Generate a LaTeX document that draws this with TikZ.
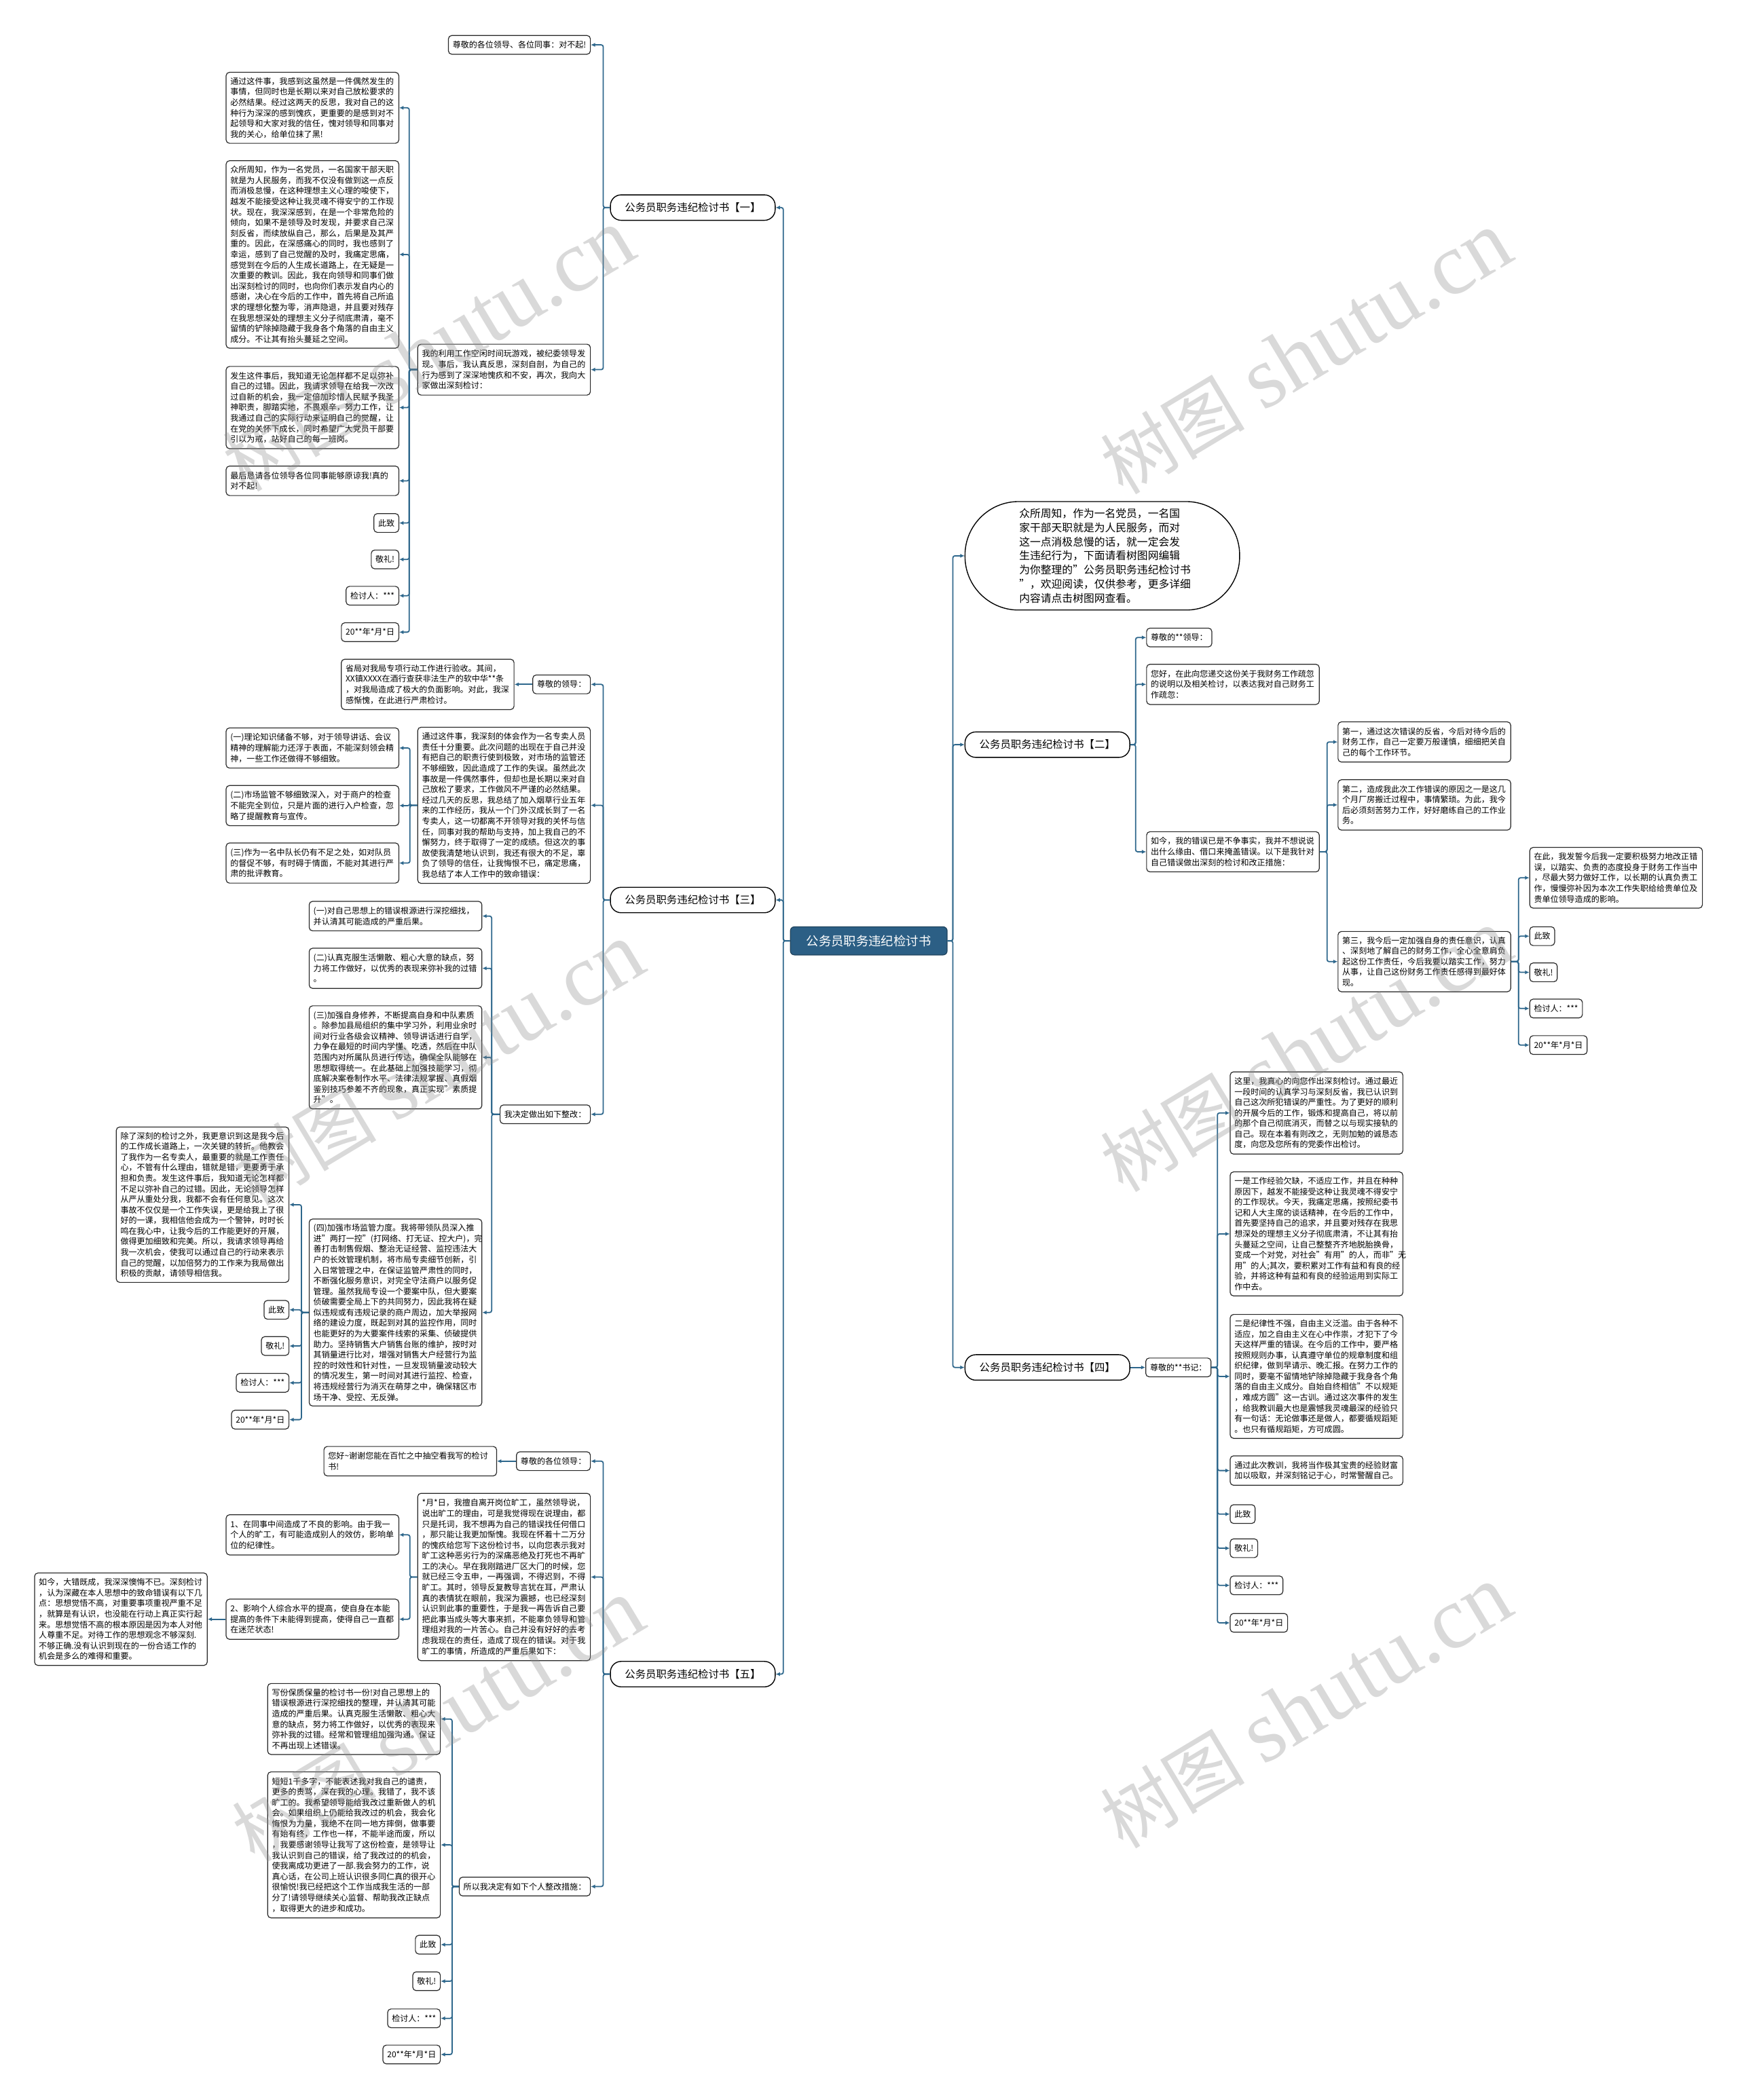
\documentclass[tikz,border=0pt]{standalone}
\usepackage{fontspec}
\setmainfont{Noto Sans CJK SC}
\newfontfamily\cjk{Noto Sans CJK SC}
\newfontfamily\wmlat{Liberation Serif}
\usetikzlibrary{arrows.meta}
\definecolor{connc}{RGB}{46,103,140}
\definecolor{boxc}{RGB}{40,40,40}
\definecolor{rootfill}{RGB}{44,95,133}
\tikzset{
 conn/.style={draw=connc, line width=0.9pt, rounded corners=1.5pt, -{Latex[length=3.2pt,width=3pt]}},
 tb/.style={draw=boxc, line width=0.6pt, rounded corners=2.5pt, fill=white, align=left, inner xsep=3.2pt, inner ysep=2pt, font=\fontsize{6.1}{7.9}\selectfont, text width=122.5pt, minimum height=#1pt},
 sb/.style={draw=boxc, line width=0.6pt, rounded corners=2.5pt, fill=white, inner xsep=3.2pt, inner ysep=2pt, font=\fontsize{6.1}{7.9}\selectfont, minimum height=14pt},
 br/.style={draw=black, line width=0.7pt, rounded corners=8pt, fill=white, font=\fontsize{7.8}{9}\selectfont, minimum width=123pt, minimum height=19pt, inner sep=0pt},
 wm/.style={text=black!45, opacity=0.33, rotate=31, inner sep=0pt},
}
\begin{document}
\begin{tikzpicture}[x=1pt,y=-1pt]
\fill[white] (0,0) rectangle (1297,1568);
\useasboundingbox (0,0) rectangle (1297,1568);

% root
\node[draw=rootfill!70!black, line width=0.6pt, fill=rootfill, rounded corners=3pt, text=white, font=\fontsize{9.3}{11}\selectfont, minimum width=117pt, minimum height=21pt, inner sep=0pt] (root) at (648.5,702.5) {公务员职务违纪检讨书};

% branches
\node[br, anchor=east] (B1) at (579,155) {公务员职务违纪检讨书【一】};
\node[br, anchor=east] (B3) at (579,672) {公务员职务违纪检讨书【三】};
\node[br, anchor=east] (B5) at (579,1250) {公务员职务违纪检讨书【五】};
\node[br, anchor=west] (B2) at (720,556) {公务员职务违纪检讨书【二】};
\node[br, anchor=west] (B4) at (720,1021) {公务员职务违纪检讨书【四】};
\node[draw=black, line width=0.7pt, rounded corners=40pt, fill=white, minimum width=205pt, minimum height=81pt, inner sep=0pt, align=left, text width=124pt, font=\fontsize{8}{10.6}\selectfont, anchor=west] (intro) at (720,415) {众所周知，作为一名党员，一名国\\家干部天职就是为人民服务，而对\\这一点消极怠慢的话，就一定会发\\生违纪行为，下面请看树图网编辑\\为你整理的"公务员职务违纪检讨书\\"，欢迎阅读，仅供参考，更多详细\\内容请点击树图网查看。};

\foreach \b in {B1,B3,B5} \draw[conn] (root.west) -- ++(-5,0) |- (\b.east);
\foreach \b in {intro,B2,B4} \draw[conn] (root.east) -- ++(4,0) |- (\b.west);

% ===== Branch 1 =====
\node[sb, anchor=east] (b1a) at (441,33.5) {尊敬的各位领导、各位同事：对不起!};
\node[tb=38, anchor=east] (b1b) at (441,276) {我的利用工作空闲时间玩游戏，被纪委领导发\\现。事后，我认真反思，深刻自剖，为自己的\\行为感到了深深地愧疚和不安，再次，我向大\\家做出深刻检讨：};
\foreach \c in {b1a,b1b} \draw[conn] (B1.west) -- ++(-5,0) |- (\c.east);

\node[tb=53, anchor=east] (c1) at (298,80.5) {通过这件事，我感到这虽然是一件偶然发生的\\事情，但同时也是长期以来对自己放松要求的\\必然结果。经过这两天的反思，我对自己的这\\种行为深深的感到愧疚，更重要的是感到对不\\起领导和大家对我的信任，愧对领导和同事对\\我的关心，给单位抹了黑!};
\node[tb=140, anchor=east] (c2) at (298,190) {众所周知，作为一名党员，一名国家干部天职\\就是为人民服务，而我不仅没有做到这一点反\\而消极怠慢，在这种理想主义心理的唆使下，\\越发不能接受这种让我灵魂不得安宁的工作现\\状。现在，我深深感到，在是一个非常危险的\\倾向，如果不是领导及时发现，并要求自己深\\刻反省，而续放纵自己，那么，后果是及其严\\重的。因此，在深感痛心的同时，我也感到了\\幸运，感到了自己觉醒的及时，我痛定思痛，\\感觉到在今后的人生成长道路上，在无疑是一\\次重要的教训。因此，我在向领导和同事们做\\出深刻检讨的同时，也向你们表示发自内心的\\感谢，决心在今后的工作中，首先将自己所追\\求的理想化整为零，消声隐退，并且要对残存\\在我思想深处的理想主义分子彻底肃清，毫不\\留情的铲除掉隐藏于我身各个角落的自由主义\\成分。不让其有抬头蔓延之空间。};
\node[tb=61.4, anchor=east] (c3) at (298,304.3) {发生这件事后，我知道无论怎样都不足以弥补\\自己的过错。因此，我请求领导在给我一次改\\过自新的机会，我一定倍加珍惜人民赋予我圣\\神职责，脚踏实地，不畏艰辛，努力工作，让\\我通过自己的实际行动来证明自己的觉醒，让\\在党的关怀下成长，同时希望广大党员干部要\\引以为戒，站好自己的每一班岗。};
\node[tb=22, anchor=east] (c4) at (298,359) {最后恳请各位领导各位同事能够原谅我!真的\\对不起!};
\node[sb, anchor=east] (c5) at (298,390.5) {此致};
\node[sb, anchor=east] (c6) at (298,417.7) {敬礼!};
\node[sb, anchor=east] (c7) at (298,444.8) {检讨人：***};
\node[sb, anchor=east] (c8) at (298,472) {20**年*月*日};
\foreach \c in {c1,c2,c3,c4,c5,c6,c7,c8} \draw[conn] (b1b.west) -- ++(-6,0) |- (\c.east);

% ===== Branch 3 =====
\node[sb, anchor=east] (d1) at (441,511) {尊敬的领导：};
\node[tb=37.6, anchor=east] (d1a) at (384,511) {省局对我局专项行动工作进行验收。其间，\\XX镇XXXX在酒行查获非法生产的软中华**条\\，对我局造成了极大的负面影响。对此，我深\\感惭愧，在此进行严肃检讨。};
\draw[conn] (d1.west) -- (d1a.east);
\node[tb=116.6, anchor=east] (d2) at (441,601.3) {通过这件事，我深刻的体会作为一名专卖人员\\责任十分重要。此次问题的出现在于自己并没\\有把自己的职责行使到极致，对市场的监管还\\不够细致，因此造成了工作的失误。虽然此次\\事故是一件偶然事件，但却也是长期以来对自\\己放松了要求，工作做风不严谨的必然结果。\\经过几天的反思，我总结了加入烟草行业五年\\来的工作经历，我从一个门外汉成长到了一名\\专卖人，这一切都离不开领导对我的关怀与信\\任，同事对我的帮助与支持，加上我自己的不\\懈努力，终于取得了一定的成绩。但这次的事\\故使我清楚地认识到，我还有很大的不足，辜\\负了领导的信任，让我悔恨不已，痛定思痛，\\我总结了本人工作中的致命错误：};
\node[sb, anchor=east] (d3) at (441,832) {我决定做出如下整改：};
\foreach \c in {d1,d2,d3} \draw[conn] (B3.west) -- ++(-5,0) |- (\c.east);

\node[tb=30, anchor=east] (d2a) at (298,558.5) {(一)理论知识储备不够，对于领导讲话、会议\\精神的理解能力还浮于表面，不能深刻领会精\\神，一些工作还做得不够细致。};
\node[tb=30, anchor=east] (d2b) at (298,601.5) {(二)市场监管不够细致深入，对于商户的检查\\不能完全到位，只是片面的进行入户检查，忽\\略了提醒教育与宣传。};
\node[tb=30, anchor=east] (d2c) at (298,644.4) {(三)作为一名中队长仍有不足之处，如对队员\\的督促不够，有时碍于情面，不能对其进行严\\肃的批评教育。};
\foreach \c in {d2a,d2b,d2c} \draw[conn] (d2.west) -- ++(-5.5,0) |- (\c.east);

\node[tb=22, anchor=east] (d3a) at (360,684) {(一)对自己思想上的错误根源进行深挖细找，\\并认清其可能造成的严重后果。};
\node[tb=30, anchor=east] (d3b) at (360,723) {(二)认真克服生活懒散、粗心大意的缺点，努\\力将工作做好，以优秀的表现来弥补我的过错\\。};
\node[tb=77, anchor=east] (d3c) at (360,789.5) {(三)加强自身修养，不断提高自身和中队素质\\。除参加县局组织的集中学习外，利用业余时\\间对行业各级会议精神、领导讲话进行自学，\\力争在最短的时间内学懂、吃透，然后在中队\\范围内对所属队员进行传达，确保全队能够在\\思想取得统一。在此基础上加强技能学习，彻\\底解决案卷制作水平、法律法规掌握、真假烟\\鉴别技巧参差不齐的现象，真正实现"素质提\\升"。};
\node[tb=139.6, anchor=east] (d3d) at (360,980) {(四)加强市场监管力度。我将带领队员深入推\\进"两打一控"(打网络、打无证、控大户)，完\\善打击制售假烟、整治无证经营、监控违法大\\户的长效管理机制，将市局专卖细节创新，引\\入日常管理之中，在保证监管严肃性的同时，\\不断强化服务意识，对完全守法商户以服务促\\管理。虽然我局专设一个要案中队，但大要案\\侦破需要全局上下的共同努力，因此我将在疑\\似违规或有违规记录的商户周边，加大举报网\\络的建设力度，既起到对其的监控作用，同时\\也能更好的为大要案件线索的采集、侦破提供\\助力。坚持销售大户销售台账的维护，按时对\\其销量进行比对，增强对销售大户经营行为监\\控的时效性和针对性，一旦发现销量波动较大\\的情况发生，第一时间对其进行监控、检查，\\将违规经营行为消灭在萌芽之中，确保辖区市\\场干净、受控、无反弹。};
\foreach \c in {d3a,d3b,d3c,d3d} \draw[conn] (d3.west) -- ++(-6,0) |- (\c.east);

\node[tb=116, anchor=east] (e1) at (216,899.5) {除了深刻的检讨之外，我更意识到这是我今后\\的工作成长道路上，一次关键的转折。他教会\\了我作为一名专卖人，最重要的就是工作责任\\心，不管有什么理由，错就是错，更要勇于承\\担和负责。发生这件事后，我知道无论怎样都\\不足以弥补自己的过错。因此，无论领导怎样\\从严从重处分我，我都不会有任何意见。这次\\事故不仅仅是一个工作失误，更是给我上了很\\好的一课，我相信他会成为一个警钟，时时长\\鸣在我心中，让我今后的工作能更好的开展，\\做得更加细致和完美。所以，我请求领导再给\\我一次机会，使我可以通过自己的行动来表示\\自己的觉醒，以加倍努力的工作来为我局做出\\积极的贡献，请领导相信我。};
\node[sb, anchor=east] (e2) at (216,978) {此致};
\node[sb, anchor=east] (e3) at (216,1005) {敬礼!};
\node[sb, anchor=east] (e4) at (216,1032.5) {检讨人：***};
\node[sb, anchor=east] (e5) at (216,1060) {20**年*月*日};
\foreach \c in {e1,e2,e3,e4,e5} \draw[conn] (d3d.west) -- ++(-5.5,0) |- (\c.east);

% ===== Branch 5 =====
\node[sb, anchor=east] (f1) at (441,1091) {尊敬的各位领导：};
\node[tb=22, anchor=east] (f1a) at (371,1091) {您好\textasciitilde 谢谢您能在百忙之中抽空看我写的检讨\\书!};
\draw[conn] (f1.west) -- (f1a.east);
\node[tb=125, anchor=east] (f2) at (441,1177.5) {*月*日，我擅自离开岗位旷工，虽然领导说，\\说出旷工的理由，可是我觉得现在说理由，都\\只是托词，我不想再为自己的错误找任何借口\\，那只能让我更加惭愧。我现在怀着十二万分\\的愧疚给您写下这份检讨书，以向您表示我对\\旷工这种恶劣行为的深痛恶绝及打死也不再旷\\工的决心。早在我刚踏进厂区大门的时候，您\\就已经三令五申，一再强调，不得迟到，不得\\旷工。其时，领导反复教导言犹在耳，严肃认\\真的表情犹在眼前，我深为震撼，也已经深刻\\认识到此事的重要性，于是我一再告诉自己要\\把此事当成头等大事来抓，不能辜负领导和管\\理组对我的一片苦心。自己并没有好好的去考\\虑我现在的责任，造成了现在的错误。对于我\\旷工的事情，所造成的严重后果如下：};
\node[sb, anchor=east] (f3) at (441,1408.6) {所以我决定有如下个人整改措施：};
\foreach \c in {f1,f2,f3} \draw[conn] (B5.west) -- ++(-5,0) |- (\c.east);

\node[tb=30, anchor=east] (f2a) at (298,1146) {1、在同事中间造成了不良的影响。由于我一\\个人的旷工，有可能造成别人的效仿，影响单\\位的纪律性。};
\node[tb=30, anchor=east] (f2b) at (298,1209) {2、影响个人综合水平的提高，使自身在本能\\提高的条件下未能得到提高，使得自己一直都\\在迷茫状态!};
\foreach \c in {f2a,f2b} \draw[conn] (f2.west) -- ++(-5.5,0) |- (\c.east);
\node[tb=69, anchor=east] (f2b1) at (155,1209) {如今，大错既成，我深深懊悔不已。深刻检讨\\，认为深藏在本人思想中的致命错误有以下几\\点：思想觉悟不高，对重要事项重视严重不足\\，就算是有认识，也没能在行动上真正实行起\\来。思想觉悟不高的根本原因是因为本人对他\\人尊重不足。对待工作的思想观念不够深刻.\\不够正确.没有认识到现在的一份合适工作的\\机会是多么的难得和重要。};
\draw[conn] (f2b.west) -- (f2b1.east);

\node[tb=53, anchor=east] (f3a) at (329,1283.5) {写份保质保量的检讨书一份!对自己思想上的\\错误根源进行深挖细找的整理，并认清其可能\\造成的严重后果。认真克服生活懒散、粗心大\\意的缺点，努力将工作做好，以优秀的表现来\\弥补我的过错。经常和管理组加强沟通。保证\\不再出现上述错误。};
\node[tb=109, anchor=east] (f3b) at (329,1377.5) {短短1千多字，不能表述我对我自己的谴责，\\更多的责骂，深在我的心理。我错了，我不该\\旷工的。我希望领导能给我改过重新做人的机\\会。如果组织上仍能给我改过的机会，我会化\\悔恨为力量，我绝不在同一地方摔倒，做事要\\有始有终，工作也一样，不能半途而废，所以\\，我要感谢领导让我写了这份检查，是领导让\\我认识到自己的错误，给了我改过的的机会，\\使我离成功更进了一部.我会努力的工作，说\\真心话，在公司上班认识很多同仁真的很开心\\很愉悦!我已经把这个工作当成我生活的一部\\分了!请领导继续关心监督、帮助我改正缺点\\，取得更大的进步和成功。};
\node[sb, anchor=east] (f3c) at (329,1452) {此致};
\node[sb, anchor=east] (f3d) at (329,1479.3) {敬礼!};
\node[sb, anchor=east] (f3e) at (329,1507) {检讨人：***};
\node[sb, anchor=east] (f3f) at (329,1534) {20**年*月*日};
\foreach \c in {f3a,f3b,f3c,f3d,f3e,f3f} \draw[conn] (f3.west) -- ++(-5,0) |- (\c.east);

% ===== Branch 2 =====
\node[sb, anchor=west] (g1) at (855.6,476) {尊敬的**领导：};
\node[tb=30, anchor=west] (g2) at (855.6,511) {您好，在此向您递交这份关于我财务工作疏忽\\的说明以及相关检讨，以表达我对自己财务工\\作疏忽：};
\node[tb=30, anchor=west] (g3) at (855.6,636) {如今，我的错误已是不争事实，我并不想说说\\出什么缘由、借口来掩盖错误。以下是我针对\\自己错误做出深刻的检讨和改正措施：};
\foreach \c in {g1,g2,g3} \draw[conn] (B2.east) -- ++(4,0) |- (\c.west);
\node[tb=30, anchor=west] (g3a) at (998.5,554) {第一，通过这次错误的反省，今后对待今后的\\财务工作，自己一定要万般谨慎，细细把关自\\己的每个工作环节。};
\node[tb=37.6, anchor=west] (g3b) at (998.5,601) {第二，造成我此次工作错误的原因之一是这几\\个月厂房搬迁过程中，事情繁琐。为此，我今\\后必须刻苦努力工作，好好磨练自己的工作业\\务。};
\node[tb=45, anchor=west] (g3c) at (998.5,718) {第三，我今后一定加强自身的责任意识，认真\\、深刻地了解自己的财务工作，全心全意肩负\\起这份工作责任，今后我要以踏实工作，努力\\从事，让自己这份财务工作责任感得到最好体\\现。};
\foreach \c in {g3a,g3b,g3c} \draw[conn] (g3.east) -- ++(5.5,0) |- (\c.west);
\node[tb=45.3, anchor=west] (g4a) at (1141.6,655.4) {在此，我发誓今后我一定要积极努力地改正错\\误，以踏实、负责的态度投身于财务工作当中\\，尽最大努力做好工作，以长期的认真负责工\\作，慢慢弥补因为本次工作失职给给贵单位及\\贵单位领导造成的影响。};
\node[sb, anchor=west] (g4b) at (1141.6,699) {此致};
\node[sb, anchor=west] (g4c) at (1141.6,726) {敬礼!};
\node[sb, anchor=west] (g4d) at (1141.6,753) {检讨人：***};
\node[sb, anchor=west] (g4e) at (1141.6,780.3) {20**年*月*日};
\foreach \c in {g4a,g4b,g4c,g4d,g4e} \draw[conn] (g3c.east) -- ++(5.5,0) |- (\c.west);

% ===== Branch 4 =====
\node[sb, anchor=west] (h1) at (855,1021) {尊敬的**书记：};
\draw[conn] (B4.east) -- (h1.west);
\node[tb=61.4, anchor=west] (h2) at (918,831) {这里，我真心的向您作出深刻检讨。通过最近\\一段时间的认真学习与深刻反省，我已认识到\\自己这次所犯错误的严重性。为了更好的顺利\\的开展今后的工作，锻炼和提高自己，将以前\\的那个自己彻底消灭，而替之以与现实接轨的\\自己。现在本着有则改之，无则加勉的诚恳态\\度，向您及您所有的党委作出检讨。};
\node[tb=92.6, anchor=west] (h3) at (918,921.3) {一是工作经验欠缺，不适应工作，并且在种种\\原因下，越发不能接受这种让我灵魂不得安宁\\的工作现状。今天，我痛定思痛，按照纪委书\\记和人大主席的谈话精神，在今后的工作中，\\首先要坚持自己的追求，并且要对残存在我思\\想深处的理想主义分子彻底肃清，不让其有抬\\头蔓延之空间，让自己整整齐齐地脱胎换骨，\\变成一个对党，对社会"有用"的人，而非"无\\用"的人;其次，要积累对工作有益和有良的经\\验，并将这种有益和有良的经验运用到实际工\\作中去。};
\node[tb=92.5, anchor=west] (h4) at (918,1027.7) {二是纪律性不强，自由主义泛滥。由于各种不\\适应，加之自由主义在心中作祟，才犯下了今\\天这样严重的错误。在今后的工作中，要严格\\按照规则办事，认真遵守单位的规章制度和组\\织纪律，做到早请示、晚汇报。在努力工作的\\同时，要毫不留情地铲除掉隐藏于我身各个角\\落的自由主义成分。自始自终相信"不以规矩\\，难成方圆"这一古训。通过这次事件的发生\\，给我教训最大也是震憾我灵魂最深的经验只\\有一句话：无论做事还是做人，都要循规蹈矩\\。也只有循规蹈矩，方可成圆。};
\node[tb=22, anchor=west] (h5) at (918,1098) {通过此次教训，我将当作极其宝贵的经验财富\\加以吸取，并深刻铭记于心，时常警醒自己。};
\node[sb, anchor=west] (h6) at (918,1130.5) {此致};
\node[sb, anchor=west] (h7) at (918,1156) {敬礼!};
\node[sb, anchor=west] (h8) at (918,1183.7) {检讨人：***};
\node[sb, anchor=west] (h9) at (918,1211.7) {20**年*月*日};
\foreach \c in {h2,h3,h4,h5,h6,h7,h8,h9} \draw[conn] (h1.east) -- ++(4.5,0) |- (\c.west);

% ===== watermarks =====
\foreach \p/\n in {{(320,262)}/w1,{(975,264)}/w2,{(327,795)}/w3,{(975,785)}/w4,{(327,1285)}/w5,{(975,1275)}/w6}
  \node[wm] (\n) at \p {\fontsize{54}{54}\selectfont 树图\hspace{14pt}{\wmlat\fontsize{66}{66}\selectfont shutu.cn}};
\end{tikzpicture}
\end{document}
